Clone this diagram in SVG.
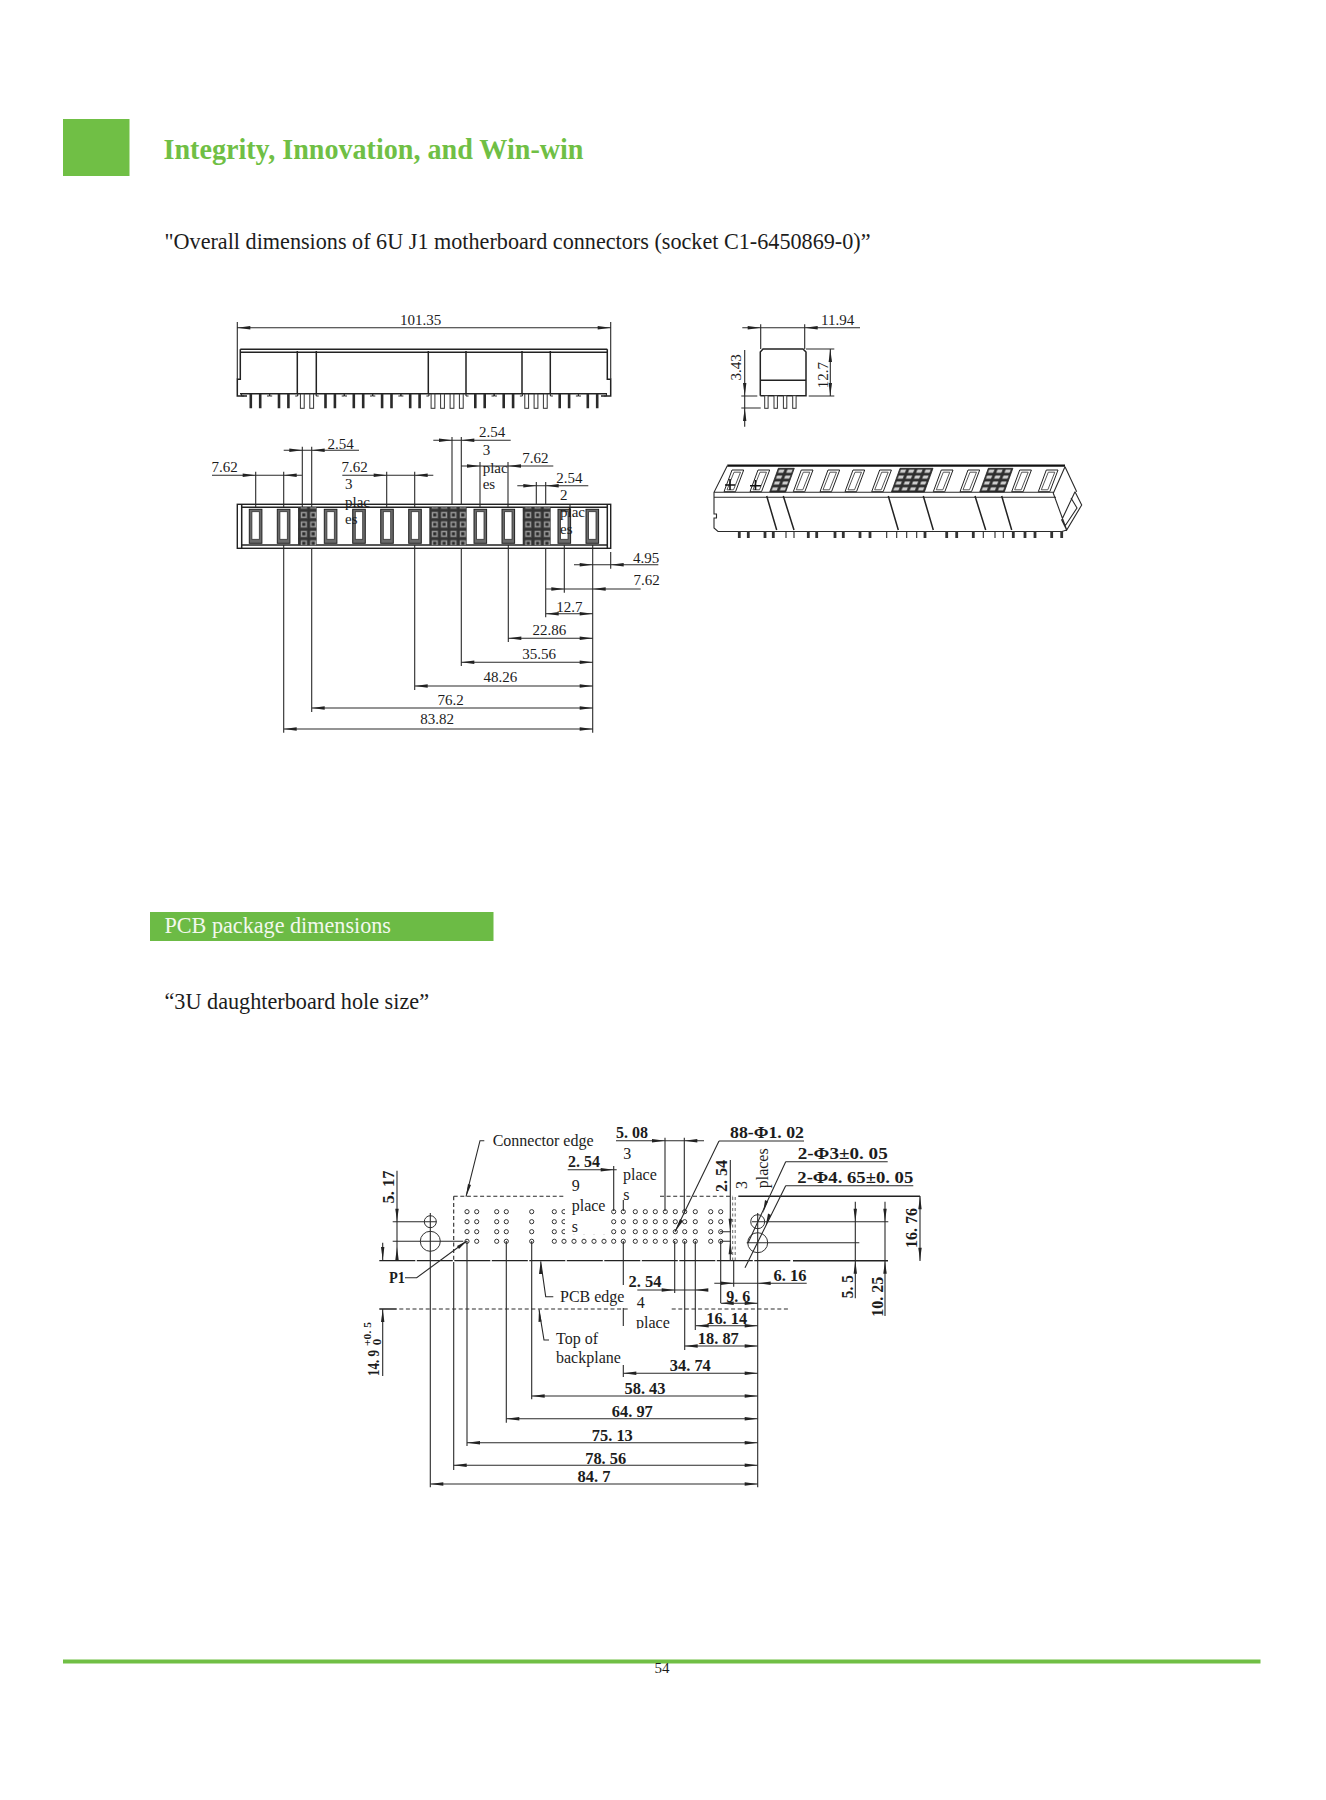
<svg xmlns="http://www.w3.org/2000/svg" width="1326" height="1800" viewBox="0 0 1326 1800">
<style>
text{font-family:"Liberation Serif","Times New Roman",serif;fill:#1c1c1c}
.t{font-size:15px}
.n{font-size:16px}
.m{text-anchor:middle}
.b{font-size:17px;font-weight:bold;text-anchor:middle}
.l{fill:none;stroke:#2a2a2a;stroke-width:1.1}
.k{fill:none;stroke:#222;stroke-width:1.5}
.d{fill:none;stroke:#2a2a2a;stroke-width:1.1;stroke-dasharray:4 2.6}
.h{fill:#fff;stroke:#333;stroke-width:1}
</style>
<defs>
<polygon id="ar" points="0,0 -13,-1.7 -13,1.7" fill="#222"/>
<polygon id="al" points="0,0 13,-1.7 13,1.7" fill="#222"/>
<polygon id="ad" points="0,0 -1.7,-13 1.7,-13" fill="#222"/>
<polygon id="au" points="0,0 -1.7,13 1.7,13" fill="#222"/>
<g id="col"><circle class="h" cy="1211.7" r="2.1"/><circle class="h" cy="1221.7" r="2.1"/><circle class="h" cy="1231.7" r="2.1"/><circle class="h" cy="1241.3" r="2.1"/></g>
<g id="pp"><path class="l" d="M-14 396V393.7M14 396V393.7M-14 396H-11.5M14 396H11.5"/><path d="M-6 394H-3.4V408.3H-6ZM3.4 394H6V408.3H3.4Z" fill="#2a2a2a"/></g>
<rect id="u" x="-1.9" y="394" width="3.8" height="14.3" fill="#fff" stroke="#333" stroke-width="1"/>
<g id="slot"><rect width="12.6" height="34" fill="#6a6a6a" stroke="#222" stroke-width="1"/><rect x="2.6" y="2.4" width="7.4" height="27.6" fill="#fff" stroke="#333" stroke-width=".8"/></g>
<g id="s3"><path d="M8 0H19.7L11.5 21.7H0Z" fill="#fff" stroke="#222" stroke-width="1"/><path d="M10 2.2H16.5L9.5 19.8H3Z" fill="#fff" stroke="#444" stroke-width=".9"/></g>
<pattern id="gr" width="9.35" height="9.45" patternUnits="userSpaceOnUse"><rect width="9.35" height="9.45" fill="#333"/><rect x="1.3" y="1.3" width="6.7" height="6.8" fill="#999" stroke="#333" stroke-width=".5"/><rect x="3.1" y="3.1" width="3.1" height="3.1" fill="#2a2a2a"/></pattern>
<pattern id="g3" width="8.2" height="5.9" patternUnits="userSpaceOnUse"><rect width="8.2" height="5.9" fill="#2e2e2e"/><rect x="1.4" y="1.3" width="5.2" height="3.2" fill="#ccc"/></pattern>
</defs>
<rect width="1326" height="1800" fill="#fff"/>

<g id="header">
<rect x="63" y="119" width="66.5" height="57" fill="#70bf45"/>
<text x="163.5" y="159.3" font-size="29" font-weight="bold" textLength="420" lengthAdjust="spacingAndGlyphs" style="fill:#70bf45">Integrity, Innovation, and Win-win</text>
<text x="164.5" y="248.5" font-size="23.5" textLength="706" lengthAdjust="spacingAndGlyphs">"Overall dimensions of 6U J1 motherboard connectors (socket C1-6450869-0)”</text>
</g>

<g id="top-view">
<path class="k" d="M240.3 349.3H607.3M240.3 352.3H607.3M240.3 349.3V379.3H237.3V396H247M607.3 349.3V379.3H610.7V396H601M240 393.7H607"/>
<path class="k" d="M297.3 351V393.7M316.3 351V393.7M428.3 351V393.7M466 351V393.7M522 351V393.7M550.3 351V393.7"/>
<use href="#pp" x="255.5"/><use href="#pp" x="283.7"/><use href="#pp" x="330.2"/><use href="#pp" x="358.5"/><use href="#pp" x="386.8"/><use href="#pp" x="414.9"/><use href="#pp" x="480"/><use href="#pp" x="508.4"/><use href="#pp" x="564.4"/><use href="#pp" x="592.5"/>
<use href="#u" x="302.3"/><use href="#u" x="311.7"/><use href="#u" x="433"/><use href="#u" x="442.5"/><use href="#u" x="452"/><use href="#u" x="461.3"/><use href="#u" x="526.7"/><use href="#u" x="536"/><use href="#u" x="545.3"/>
<path class="l" d="M237.3 379V322M610.7 379V322M237.3 327.7H610.7"/>
<use href="#al" x="237.3" y="327.7"/><use href="#ar" x="610.7" y="327.7"/>
<text class="t m" x="420.7" y="325">101.35</text>
</g>

<g id="side-view">
<path class="k" d="M760.3 395.7V352L763 349H803L806 352V395.7H760.3M760.3 380.3H806"/>
<g fill="#fff" stroke="#333" stroke-width="1"><rect x="764.7" y="395.7" width="3.4" height="12.6"/><rect x="774" y="395.7" width="3.4" height="12.6"/><rect x="783.4" y="395.7" width="3.4" height="12.6"/><rect x="792.7" y="395.7" width="3.4" height="12.6"/></g>
<path class="l" d="M742.3 327.7H860M760.7 324.3V349M804.7 324.3V349M806 349H834.3M808.7 396H834.3M830.3 349V396M744.7 350V426.7M741.3 396H757.3M741.3 408H760.7"/>
<use href="#ar" x="760.7" y="327.7"/><use href="#al" x="804.7" y="327.7"/><use href="#au" x="830.3" y="349"/><use href="#ad" x="830.3" y="396"/><use href="#ad" x="744.7" y="396"/><use href="#au" x="744.7" y="408"/>
<text class="t m" x="837.7" y="324.7">11.94</text>
<text class="t m" transform="translate(827.5 375) rotate(-90)">12.7</text>
<text class="t m" transform="translate(741 367.3) rotate(-90)">3.43</text>
</g>

<g id="iso-view">
<path class="l" d="M727.3 465.7L714 492.3V514H716.5V518H714V528L718 531.5H1062L1066.7 530L1053.3 493.3L1065 466.7M714 492.3H1053.3M714 497.3H1056M1065 466.7L1076.7 491.7M1075 491.7L1081.7 505L1066.7 530L1061.7 520L1075 491.7M1071 498L1077 508L1065 526"/>
<path d="M727.3 465.7H1065" stroke="#111" stroke-width="2.2" fill="none"/>
<path class="k" d="M766.7 496L776.7 530M783.3 496L794 530M888.3 496L898.3 530M923.3 496L933.3 530M975 496L985.7 530M1001.7 496L1011.7 530"/>
<use href="#s3" x="724" y="470"/><use href="#s3" x="750" y="470"/><use href="#s3" x="793.3" y="470"/><use href="#s3" x="820" y="470"/><use href="#s3" x="845" y="470"/><use href="#s3" x="871.7" y="470"/><use href="#s3" x="933.3" y="470"/><use href="#s3" x="960" y="470"/><use href="#s3" x="1011.7" y="470"/><use href="#s3" x="1038.3" y="470"/>
<g transform="translate(778.3 468.3) skewX(-20)"><rect width="16" height="23.6" fill="url(#g3)" stroke="#222" stroke-width=".7"/></g>
<g transform="translate(900 468.3) skewX(-20)"><rect width="33" height="23.6" fill="url(#g3)" stroke="#222" stroke-width=".7"/></g>
<g transform="translate(988.3 468.3) skewX(-20)"><rect width="24.6" height="23.6" fill="url(#g3)" stroke="#222" stroke-width=".7"/></g>
<path d="M725 485H735M730 479V490M750 485.7H761M755.5 480V490" stroke="#111" stroke-width="1.6" fill="none"/>
<path d="M739.3 531v7M748.3 531v7M765 531v7M773.3 531v7M808.3 531v7M816.7 531v7M835 531v7M843.3 531v7M860 531v7M870 531v7M925 531v7M946.7 531v7M956.7 531v7M973.3 531v7M1013.3 531v7M1025 531v7M1035 531v7M1051.7 531v7M1061.7 531v7" stroke="#333" stroke-width="2.8" fill="none"/>
<path class="l" d="M786 531v7M794 531v7M886.7 531v7M896.7 531v7M906.7 531v7M916.7 531v7M995 531v7M1003.3 531v7M983.3 531v7"/>
</g>

<g id="bottom-view">
<rect x="237.3" y="504.3" width="373.4" height="44" fill="#fff" stroke="#222" stroke-width="1.4"/>
<path class="k" d="M241.7 504.3V548.3M607.3 504.3V548.3M241.7 507.3H607.3M241.7 545H607.3"/>
<use href="#slot" x="249.3" y="509.3"/><use href="#slot" x="277.3" y="509.3"/><use href="#slot" x="324.3" y="509.3"/><use href="#slot" x="352.7" y="509.3"/><use href="#slot" x="380.7" y="509.3"/><use href="#slot" x="408.7" y="509.3"/><use href="#slot" x="474" y="509.3"/><use href="#slot" x="502" y="509.3"/><use href="#slot" x="558" y="509.3"/><use href="#slot" x="586" y="509.3"/>
<rect x="298" y="507.3" width="18.7" height="37.8" fill="url(#gr)"/>
<rect x="429.3" y="507.3" width="37.4" height="37.8" fill="url(#gr)"/>
<rect x="522.7" y="507.3" width="28" height="37.8" fill="url(#gr)"/>
</g>

<g id="bottom-dims">
<path class="l" d="M212 475.3H301.7M255.7 471.7V507M283.7 471.7V507M283.7 450.3H359M302.3 446.7V507M311.7 446.7V507M342.3 475.3H433.3M386.7 471.7V507M414.7 471.7V507M433.3 440.3H510.7M452 437V505M461.3 437V505M461.3 466H553.3M480 462V507M508 462V507M517.3 485.7H588.3M536.3 482V505M545.7 482V505M570 505V516"/>
<path class="l" d="M592.7 545V732.7M574 564.7H658.3M610.7 552V568.7M545.7 589H640.7M545.7 548V617.3M564.3 545V592.7M545.7 613.7H592.7M508.3 545V642M508.3 638.3H592.7M461.3 548V666M461.3 662.3H592.7M414.7 545V690M414.7 686H592.7M311.7 548V712M311.7 708H592.7M283.7 545V732.7M283.7 729H592.7"/>
<use href="#ar" x="255.7" y="475.3"/><use href="#al" x="283.7" y="475.3"/><use href="#ar" x="302.3" y="450.3"/><use href="#al" x="311.7" y="450.3"/><use href="#ar" x="386.7" y="475.3"/><use href="#al" x="414.7" y="475.3"/><use href="#ar" x="452" y="440.3"/><use href="#al" x="461.3" y="440.3"/><use href="#ar" x="480" y="466"/><use href="#al" x="508" y="466"/><use href="#ar" x="536.3" y="485.7"/><use href="#al" x="545.7" y="485.7"/>
<use href="#ar" x="592.7" y="564.7"/><use href="#al" x="610.7" y="564.7"/><use href="#ar" x="564.3" y="589"/><use href="#al" x="592.7" y="589"/><use href="#al" x="545.7" y="613.7"/><use href="#ar" x="592.7" y="613.7"/><use href="#al" x="508.3" y="638.3"/><use href="#ar" x="592.7" y="638.3"/><use href="#al" x="461.3" y="662.3"/><use href="#ar" x="592.7" y="662.3"/><use href="#al" x="414.7" y="686"/><use href="#ar" x="592.7" y="686"/><use href="#al" x="311.7" y="708"/><use href="#ar" x="592.7" y="708"/><use href="#al" x="283.7" y="729"/><use href="#ar" x="592.7" y="729"/>
<text class="t m" x="224.5" y="471.7">7.62</text><text class="t m" x="340.7" y="449">2.54</text><text class="t m" x="354.5" y="471.7">7.62</text>
<text class="t" x="345" y="489">3</text><text class="t" x="345" y="507">plac</text><text class="t" x="345" y="524">es</text>
<text class="t m" x="492" y="437.3">2.54</text><text class="t" x="482.7" y="455">3</text><text class="t" x="482.7" y="472.7">plac</text><text class="t" x="482.7" y="489">es</text>
<text class="t m" x="535.3" y="462.7">7.62</text><text class="t m" x="569.3" y="483">2.54</text>
<text class="t" x="560" y="500">2</text><text class="t" x="560" y="517">plac</text><text class="t" x="560" y="534">es</text>
<text class="t m" x="646" y="562.7">4.95</text><text class="t m" x="646.7" y="585.3">7.62</text><text class="t m" x="569.3" y="611.7">12.7</text><text class="t m" x="549.3" y="635">22.86</text><text class="t m" x="539" y="659">35.56</text><text class="t m" x="500.3" y="682">48.26</text><text class="t m" x="450.7" y="705">76.2</text><text class="t m" x="437" y="724">83.82</text>
</g>

<g id="section">
<rect x="150" y="912" width="343.5" height="29" fill="#6cbb45"/>
<text x="164.5" y="932.7" font-size="23" textLength="226.5" lengthAdjust="spacingAndGlyphs" style="fill:#f2f8ee">PCB package dimensions</text>
<text x="164.5" y="1009" font-size="23" textLength="264.5" lengthAdjust="spacingAndGlyphs">“3U daughterboard hole size”</text>
</g>

<g id="hole-pattern">
<path class="d" d="M453.7 1196.3H565M660 1196.3H733M453.7 1196.3V1262M399.3 1309H630M671.7 1309H788"/>
<path d="M732.7 1197V1261M735.2 1197V1261" fill="none" stroke="#444" stroke-width=".8" stroke-dasharray="3 2.5"/>
<path d="M379.3 1260.7H791.7" fill="none" stroke="#222" stroke-width="1.3" stroke-dasharray="36 1.5"/>
<path d="M793 1260.7H888M738.3 1196.3H920" fill="none" stroke="#222" stroke-width="1.5"/>
<path d="M379.3 1309H396.7" fill="none" stroke="#222" stroke-width="1.5"/>
<use href="#col" x="467"/><use href="#col" x="476.7"/><use href="#col" x="496.7"/><use href="#col" x="506.3"/><use href="#col" x="531.7"/><use href="#col" x="554.3"/><use href="#col" x="564"/><use href="#col" x="574"/><use href="#col" x="584"/><use href="#col" x="594"/><use href="#col" x="604"/><use href="#col" x="613.7"/><use href="#col" x="623.3"/><use href="#col" x="635.3"/><use href="#col" x="645.3"/><use href="#col" x="655.3"/><use href="#col" x="665.3"/><use href="#col" x="675.3"/><use href="#col" x="684.7"/><use href="#col" x="695.3"/><use href="#col" x="710.7"/><use href="#col" x="720.7"/>
<rect x="565" y="1172" width="46" height="62" fill="#fff"/>
<circle cx="430.3" cy="1221.7" r="6" fill="none" stroke="#333"/><circle cx="430.3" cy="1241.3" r="10" fill="none" stroke="#333"/>
<circle cx="757.7" cy="1221.7" r="7" fill="none" stroke="#333"/><circle cx="757.7" cy="1242.7" r="10" fill="none" stroke="#333"/>
</g>

<g id="hole-dims">
<path class="l" d="M397 1170.7V1260M392.7 1221.7H436.7M392.7 1241.3H463.3M419.3 1241.3H443M430.3 1213V1487.3M382.7 1242.7V1260M382.7 1309V1376M453.7 1262V1470M467 1241V1446M506.3 1241V1422.7M531.7 1241V1399.3M757.7 1213V1487.3"/>
<path class="l" d="M623.3 1200V1211M613.7 1166V1211M665 1137.7V1211M684.3 1137.7V1213M567.7 1169.7H616.7M616 1140.7H704M623.3 1241V1285M623.3 1308V1326M623.3 1365V1377M674.7 1241V1293M637.3 1290H704M695.3 1241V1330M684.7 1241V1350M720.7 1241V1303M733.7 1261V1286.7M714.3 1283.3H806.7"/>
<path class="l" d="M730.3 1160V1260.7M720 1231.7H731M720 1241.3H731M920 1196V1261M855.3 1201.7V1298.3M885 1201.7V1316M751.7 1221.7H888.3M746.7 1242.7H859.3"/>
<path class="l" d="M623.3 1373.3H757.7M531.7 1396H757.7M506.3 1418.7H757.7M467 1442.7H757.7M453.7 1465.3H757.7M430.3 1484H757.7M684.7 1346H757.7M695.7 1325.7H757.7M720.7 1303.3H757.7"/>
<path class="l" d="M405 1277.7H416.7L466.7 1241M466 1196.7L480 1140.7H484.3M540.7 1261.3L545.7 1296.7H553.3M539 1309.3L544 1340H549M719 1141H804M719 1141L675 1231.7M785.7 1161.7H887.7M785.7 1161.7L748 1243M785.7 1185.7H913.3M785.7 1185.7L745 1267.7"/>
<use href="#ad" x="397" y="1221.7"/><use href="#au" x="397" y="1247"/><use href="#ad" x="382.7" y="1260"/><use href="#au" x="382.7" y="1309"/>
<use href="#ar" x="613.7" y="1169.7"/><use href="#ar" x="665" y="1140.7"/><use href="#al" x="684.3" y="1140.7"/><use href="#ar" x="674.7" y="1290"/><use href="#al" x="695.3" y="1290"/><use href="#ar" x="733.7" y="1283.3"/><use href="#al" x="757.7" y="1283.3"/>
<use href="#ad" x="730.3" y="1231.7"/><use href="#au" x="730.3" y="1241.3"/><use href="#ad" x="855.3" y="1221.7"/><use href="#au" x="855.3" y="1260.7"/><use href="#ad" x="885" y="1221.7"/><use href="#au" x="885" y="1260.7"/><use href="#au" x="920" y="1196.3"/><use href="#ad" x="920" y="1260.7"/>
<use href="#al" x="623.3" y="1373.3"/><use href="#ar" x="757.7" y="1373.3"/><use href="#al" x="531.7" y="1396"/><use href="#ar" x="757.7" y="1396"/><use href="#al" x="506.3" y="1418.7"/><use href="#ar" x="757.7" y="1418.7"/><use href="#al" x="467" y="1442.7"/><use href="#ar" x="757.7" y="1442.7"/><use href="#al" x="453.7" y="1465.3"/><use href="#ar" x="757.7" y="1465.3"/><use href="#al" x="430.3" y="1484"/><use href="#ar" x="757.7" y="1484"/><use href="#al" x="684.7" y="1346"/><use href="#ar" x="757.7" y="1346"/><use href="#al" x="695.7" y="1325.7"/><use href="#ar" x="757.7" y="1325.7"/><use href="#al" x="720.7" y="1303.3"/><use href="#ar" x="757.7" y="1303.3"/>
<polygon points="466.7,1241 457,1246 459,1249" fill="#222"/><polygon points="466,1196.7 468,1184 471,1185" fill="#222"/><polygon points="540.7,1261.3 539,1274 542.5,1274" fill="#222"/><polygon points="539,1309.3 538.5,1322 541.5,1321.5" fill="#222"/><polygon points="675,1231.7 680,1219 683,1221" fill="#222"/><polygon points="763,1213 765,1200 768,1201.5" fill="#222"/><polygon points="765.7,1226 768,1213.5 771,1215" fill="#222"/>
</g>

<g id="hole-labels">
<text class="n" x="636.7" y="1308">4</text><text class="n" x="636" y="1327.7">place</text>
<rect x="630" y="1328.5" width="42" height="8" fill="#fff"/>
<text class="n" x="492.7" y="1145.7">Connector edge</text><text class="n" x="560" y="1302.3">PCB edge</text><text class="n" x="556" y="1344.3">Top of</text><text class="n" x="556" y="1363.3">backplane</text>
<text class="n" x="623.3" y="1159.3">3</text><text class="n" x="623" y="1180">place</text><text class="n" x="623.3" y="1200">s</text>
<text class="n" x="571.7" y="1190.7">9</text><text class="n" x="571.7" y="1211">place</text><text class="n" x="571.7" y="1232.3">s</text>
<text class="n m" transform="translate(746.5 1185) rotate(-90)">3</text><text class="n m" transform="translate(768.3 1168.3) rotate(-90)">places</text>
<text class="b" x="632" y="1137.7" textLength="32" lengthAdjust="spacingAndGlyphs">5. 08</text>
<text class="b" x="584" y="1166.7" textLength="32" lengthAdjust="spacingAndGlyphs">2. 54</text>
<text class="b" x="767" y="1138.3" textLength="74" lengthAdjust="spacingAndGlyphs">88-Φ1. 02</text>
<text class="b" x="842.7" y="1159.3" textLength="90" lengthAdjust="spacingAndGlyphs">2-Φ3±0. 05</text>
<text class="b" x="855.3" y="1183.3" textLength="116" lengthAdjust="spacingAndGlyphs">2-Φ4. 65±0. 05</text>
<text class="b" x="645" y="1286.7" textLength="33" lengthAdjust="spacingAndGlyphs">2. 54</text>
<text class="b" x="790" y="1281" textLength="33" lengthAdjust="spacingAndGlyphs">6. 16</text>
<text class="b" x="738.3" y="1301.7" textLength="24" lengthAdjust="spacingAndGlyphs">9. 6</text>
<text class="b" x="726.7" y="1324" textLength="41" lengthAdjust="spacingAndGlyphs">16. 14</text>
<text class="b" x="718.3" y="1344" textLength="41" lengthAdjust="spacingAndGlyphs">18. 87</text>
<text class="b" x="690.3" y="1371" textLength="41" lengthAdjust="spacingAndGlyphs">34. 74</text>
<text class="b" x="645" y="1394" textLength="41" lengthAdjust="spacingAndGlyphs">58. 43</text>
<text class="b" x="632.3" y="1416.7" textLength="41" lengthAdjust="spacingAndGlyphs">64. 97</text>
<text class="b" x="612.3" y="1440.7" textLength="41" lengthAdjust="spacingAndGlyphs">75. 13</text>
<text class="b" x="605.7" y="1464" textLength="41" lengthAdjust="spacingAndGlyphs">78. 56</text>
<text class="b" x="594" y="1481.7" textLength="33" lengthAdjust="spacingAndGlyphs">84. 7</text>
<text class="b" x="397" y="1283.3" textLength="16" lengthAdjust="spacingAndGlyphs">P1</text>
<text class="b" transform="translate(394.3 1187) rotate(-90)" textLength="33" lengthAdjust="spacingAndGlyphs">5. 17</text>
<text class="b" transform="translate(727.3 1176) rotate(-90)" textLength="32" lengthAdjust="spacingAndGlyphs">2. 54</text>
<text class="b" transform="translate(917 1228) rotate(-90)" textLength="40" lengthAdjust="spacingAndGlyphs">16. 76</text>
<text class="b" transform="translate(852.7 1286.7) rotate(-90)" textLength="23" lengthAdjust="spacingAndGlyphs">5. 5</text>
<text class="b" transform="translate(882.7 1296.7) rotate(-90)" textLength="40" lengthAdjust="spacingAndGlyphs">10. 25</text>
<text class="b" transform="translate(379 1363) rotate(-90)" textLength="26" lengthAdjust="spacingAndGlyphs">14. 9</text>
<text class="b" transform="translate(371 1334) rotate(-90)" style="font-size:11px" textLength="24" lengthAdjust="spacingAndGlyphs">+0. 5</text>
<text class="b" transform="translate(381 1342) rotate(-90)" style="font-size:13px">0</text>
</g>

<g id="footer">
<rect x="63" y="1659.5" width="1197.5" height="4" fill="#70bf45"/>
<text class="t m" x="662" y="1672.5">54</text>
</g>
</svg>
